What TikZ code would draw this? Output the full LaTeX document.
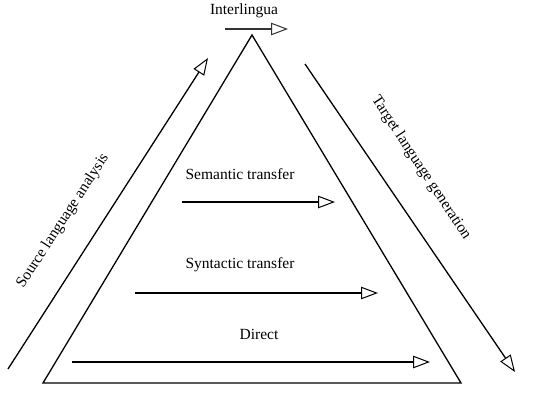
\documentclass[tikz,border=0pt]{standalone}
\usepackage{fontspec}
\setmainfont{Liberation Serif}
\usetikzlibrary{arrows.meta}
\begin{document}
\begin{tikzpicture}[x=1pt,y=-1pt,
  lbl/.style={font=\fontsize{15.5}{18}\selectfont, inner sep=0pt, text=black},
  flow/.style={line width=1.3pt, -{Triangle[open, length=17pt, width=12.5pt, line width=1pt]}},
  edge/.style={line width=1.3pt, line join=miter}]
\useasboundingbox (0,0) rectangle (535,401);
% triangle
\coordinate (apex) at (252,35);
\coordinate (bl) at (43,383);
\coordinate (br) at (461,383);
\draw[edge] (apex) -- (bl) -- (br) -- cycle;
% labels
\node[lbl] (inter) at (244,11) {Interlingua};
\node[lbl] (sem) at (240,174) {Semantic transfer};
\node[lbl] (syn) at (240,265) {Syntactic transfer};
\node[lbl] (dir) at (259,334) {Direct};
\node[lbl, rotate=57] (src) at (63,221) {Source language analysis};
\node[lbl, rotate=-56.5] (tgt) at (421,168) {Target language generation};
% arrow endpoints
\coordinate (i0) at (225,29);  \coordinate (i1) at (288,29);
\coordinate (s0) at (182,202); \coordinate (s1) at (335,202);
\coordinate (y0) at (135,293); \coordinate (y1) at (378,293);
\coordinate (d0) at (72,362);  \coordinate (d1) at (430,362);
\coordinate (l0) at (8,369);   \coordinate (l1) at (208,58);
\coordinate (r0) at (305,64);  \coordinate (r1) at (515,372);
\draw[flow, line width=1.8pt, draw=black!80] (i0) -- (i1);
\draw[flow] (s0) -- (s1);
\draw[flow] (y0) -- (y1);
\draw[flow] (d0) -- (d1);
\draw[flow] (l0) -- (l1);
\draw[flow] (r0) -- (r1);
\end{tikzpicture}
\end{document}
